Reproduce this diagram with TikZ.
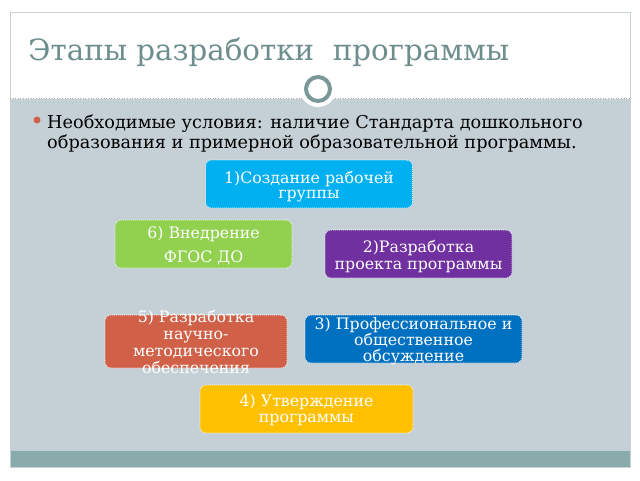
\documentclass[tikz,border=0pt]{standalone}
\usepackage{fontspec}
\setmainfont{DejaVu Serif}
\definecolor{bodygrey}{RGB}{197,208,214}
\definecolor{bandteal}{RGB}{138,171,171}
\definecolor{framegrey}{RGB}{200,210,210}
\definecolor{titlec}{RGB}{110,142,142}
\definecolor{ringc}{RGB}{122,152,152}
\definecolor{bulletc}{RGB}{208,96,72}
\definecolor{cA}{RGB}{0,176,240}
\definecolor{cB}{RGB}{146,208,80}
\definecolor{cC}{RGB}{112,48,160}
\definecolor{cD}{RGB}{208,96,72}
\definecolor{cE}{RGB}{0,112,192}
\definecolor{cF}{RGB}{255,192,0}
\begin{document}
\begin{tikzpicture}[x=1pt,y=-1pt,
  stagebox/.style={draw=white, dash pattern=on 1pt off 1pt, line width=0.6pt,
    rounded corners=6pt, inner sep=0pt},
  stagetext/.style={text=white, align=center, inner sep=0pt, anchor=base}]
\useasboundingbox (0,0) rectangle (640,480);
\fill[white] (0,0) rectangle (640,480);
\fill[bodygrey] (10,99) rectangle (630,451);
\fill[bandteal] (10,451) rectangle (630,467);
\draw[framegrey, line width=0.8pt] (10,12) rectangle (630,467);
\draw[gray!70, dotted, line width=0.6pt] (10,98) -- (630,98);
\fill[white] (318,89) circle (18);
\draw[ringc, line width=4pt] (318,89) circle (12);
\node[anchor=base west, text=titlec, inner sep=0pt,
  font=\fontsize{29.3}{34}\selectfont] (title) at (28,60) {Этапы разработки\ \ программы};
\fill[bulletc] (37,120) circle (3.5);
\node[anchor=base west, inner sep=0pt, font=\fontsize{17.7}{21}\selectfont] (cond1) at (47,128)
  {Необходимые условия: наличие Стандарта дошкольного};
\node[anchor=base west, inner sep=0pt, font=\fontsize{17.7}{21}\selectfont] (cond2) at (47,148)
  {образования и примерной образовательной программы.};
% boxes
\node[stagebox, fill=cA, minimum width=207pt, minimum height=48pt] (b1) at (309,184) {};
\node[stagetext, font=\fontsize{15.8}{15}\selectfont] (t1) at (309,198) {1)Создание рабочей\\группы};
\node[stagebox, fill=cB, minimum width=177pt, minimum height=48pt] (b6) at (203.5,244) {};
\node[stagetext, font=\fontsize{15.8}{24}\selectfont] (t6) at (203.5,262) {6) Внедрение\\ФГОС ДО};
\node[stagebox, fill=cC, minimum width=187pt, minimum height=48pt] (b2) at (418.5,254) {};
\node[stagetext, font=\fontsize{15.8}{17}\selectfont] (t2) at (418.5,269) {2)Разработка\\проекта программы};
\node[stagebox, fill=cD, minimum width=182pt, minimum height=53pt] (b5) at (196,341.5) {};
\node[stagetext, font=\fontsize{15.8}{17}\selectfont] (t5) at (196,373) {5) Разработка\\научно-\\методического\\обеспечения};
\node[stagebox, fill=cE, minimum width=217pt, minimum height=48pt] (b3) at (413.5,339) {};
\node[stagetext, font=\fontsize{15.8}{16}\selectfont] (t3) at (413.5,361) {3) Профессиональное и\\общественное\\обсуждение};
\node[stagebox, fill=cF, minimum width=213pt, minimum height=48pt] (b4) at (306.5,409) {};
\node[stagetext, font=\fontsize{15.8}{16}\selectfont] (t4) at (306.5,422) {4) Утверждение\\программы};
\end{tikzpicture}
\end{document}
